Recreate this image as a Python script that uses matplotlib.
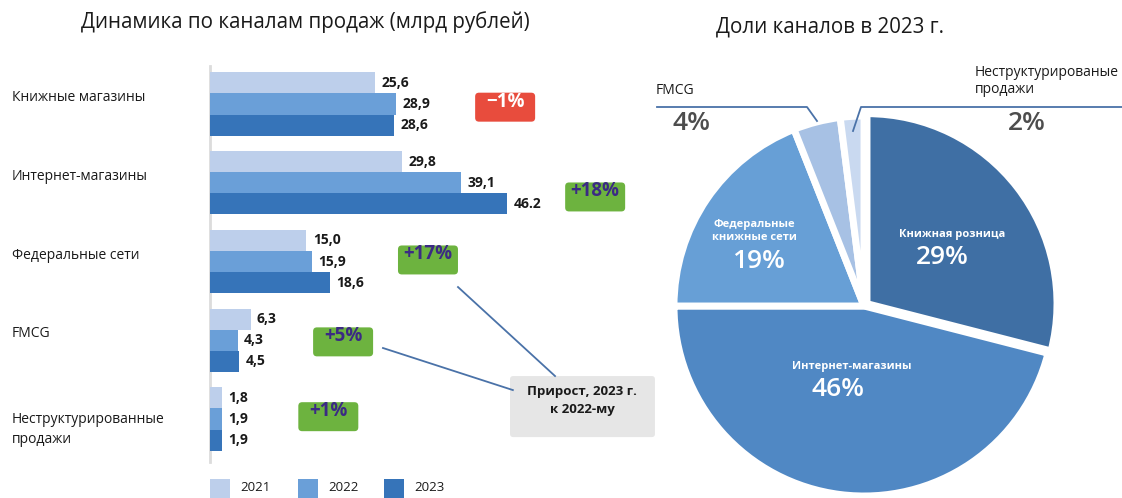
import matplotlib
matplotlib.use("Agg")
import matplotlib.pyplot as plt
from matplotlib.patches import FancyBboxPatch, Rectangle
from matplotlib.lines import Line2D
from matplotlib.transforms import blended_transform_factory

plt.rcParams['font.family'] = ['Open Sans', 'DejaVu Sans']

# data
categories = ["Книжные магазины", "Интернет-магазины", "Федеральные сети", "FMCG",
              "Неструктурированные\nпродажи"]
years = ["2021", "2022", "2023"]
sales_2021 = [25.6, 29.8, 15.0, 6.3, 1.8]
sales_2022 = [28.9, 39.1, 15.9, 4.3, 1.9]
sales_2023 = [28.6, 46.2, 18.6, 4.5, 1.9]
labels_2021 = ["25,6", "29,8", "15,0", "6,3", "1,8"]
labels_2022 = ["28,9", "39,1", "15,9", "4,3", "1,9"]
labels_2023 = ["28,6", "46.2", "18,6", "4,5", "1,9"]
growth = ["\u22121%", "+18%", "+17%", "+5%", "+1%"]

share_names = ["Книжная розница", "Интернет-магазины", "Федеральные\nкнижные сети",
               "FMCG", "Неструктурированые\nпродажи"]
shares = [29, 46, 19, 4, 2]

# styling / layout
bar_colors = ["#bdcfeb", "#6a9fd8", "#3674b9"]
pie_colors = ["#3f6fa4", "#5088c4", "#679fd6", "#a7c1e4", "#c9d9f0"]
growth_pos = [(45.9, 0.04), (59.9, 1.18), (33.9, 1.98), (20.7, 3.02), (18.4, 3.97)]
W, H = 1122, 498


def fx(px):
    return px / W


def fy(py):
    return 1 - py / H


fig = plt.figure(figsize=(W / 100, H / 100), dpi=100)

# ---- bar chart ----
ax1 = fig.add_axes([fx(210), fy(470), fx(660) - fx(210), fy(60) - fy(470)])
ax1.set_xlim(0, 450 / 6.43)
ax1.set_ylim(4.647, -0.559)
ax1.axis('off')

bh = 0.268
series = [sales_2021, sales_2022, sales_2023]
slabels = [labels_2021, labels_2022, labels_2023]
for k in range(3):
    ys = [i + (k - 1) * bh for i in range(len(categories))]
    ax1.barh(ys, series[k], height=bh, color=bar_colors[k])
    for y, v, lab in zip(ys, series[k], slabels[k]):
        ax1.text(v + 1.0, y, lab, va='center', ha='left', fontsize=10,
                 fontweight='bold', color='#1a1a1a')

ax1.plot([0, 0], [-0.48, 4.55], color='#dcdcdc', lw=2, clip_on=False, zorder=0)

tr = blended_transform_factory(fig.transFigure, ax1.transData)
for i, name in enumerate(categories):
    off = 0.13 if "\n" in name else -0.08
    ax1.text(fx(12), i + off, name, transform=tr, ha='left', va='center',
             fontsize=10, color='#1a1a1a', linespacing=1.5)

# growth badges
asp = (1 / 78.75) / (1 / 6.43)
for (gx, gy), g in zip(growth_pos, growth):
    neg = g.startswith("\u2212")
    w, h = 9.33, 0.368
    box = FancyBboxPatch((gx - w / 2, gy - h / 2), w, h,
                         boxstyle="round,pad=0,rounding_size=0.6",
                         mutation_aspect=asp,
                         facecolor="#e84c3d" if neg else "#6db33f",
                         edgecolor='none')
    ax1.add_patch(box)
    ax1.text(gx, gy - 0.07, g, ha='center', va='center', fontsize=13.5,
             fontweight='bold', color='white' if neg else '#3b2a84')

# callout
cbox = FancyBboxPatch((46.66, 3.454), 69.2 - 46.66, 4.229 - 3.454,
                      boxstyle="round,pad=0,rounding_size=0.5",
                      mutation_aspect=asp, facecolor='#e6e6e6', edgecolor='none',
                      clip_on=False)
ax1.add_patch(cbox)
ax1.text(57.9, 3.77, "Прирост, 2023 г.\nк 2022-му", ha='center', va='center',
         fontsize=9.5, fontweight='bold', color='#1a1a1a', linespacing=1.5)
ax1.plot([38.57, 53.66], [2.324, 3.454], color='#4a72a8', lw=1.3, clip_on=False)
ax1.plot([26.9, 47.1], [3.098, 3.632], color='#4a72a8', lw=1.3, clip_on=False)

# legend
for k, (yr, x0) in enumerate(zip(years, [210, 298, 384])):
    fig.patches.append(Rectangle((fx(x0), 0), 20 / W, 19 / H, transform=fig.transFigure,
                                 facecolor=bar_colors[k], edgecolor='none'))
    fig.text(fx(x0 + 30), fy(487), yr, ha='left', va='center', fontsize=9.5,
             color='#1a1a1a')

fig.text(fx(305), fy(22), "Динамика по каналам продаж (млрд рублей)", ha='center',
         va='center', fontsize=14.8, color='#1a1a1a')

# ---- pie chart ----
R = 190
ax2 = fig.add_axes([fx(864 - R), fy(306 + R), 2 * R / W, 2 * R / H])
ax2.pie(shares, colors=pie_colors, startangle=90, counterclock=False, radius=1,
        explode=[0.02, 0, 0, 0, 0],
        wedgeprops=dict(edgecolor='white', linewidth=5))
ax2.set_xlim(-1, 1)
ax2.set_ylim(-1, 1)
ax2.axis('off')

fig.text(fx(830), fy(27), "Доли каналов в 2023 г.", ha='center', va='center',
         fontsize=14.8, color='#1a1a1a')

inner = [(0, 952, 234, 942, 258), (1, 852, 367, 838, 390), (2, 754, 231, 758, 262)]
for idx, lx, ly, px, py in inner:
    fig.text(fx(lx), fy(ly), share_names[idx], ha='center', va='center', fontsize=8,
             fontweight='bold', color='white', linespacing=1.3)
    fig.text(fx(px), fy(py), f"{shares[idx]}%", ha='center', va='center',
             fontsize=19, fontweight='semibold', color='white')

fig.text(fx(656), fy(90), share_names[3], ha='left', va='center', fontsize=10,
         color='#1a1a1a')
fig.text(fx(692), fy(124), f"{shares[3]}%", ha='center', va='center', fontsize=19,
         fontweight='semibold', color='#4d4d4d')
fig.lines.append(Line2D([fx(657), fx(807), fx(817)], [fy(107), fy(107), fy(121)],
                        transform=fig.transFigure, color='#4a72a8', lw=1.3))

fig.text(fx(975), fy(81), share_names[4], ha='left', va='center', fontsize=10,
         color='#1a1a1a', linespacing=1.2)
fig.text(fx(1027), fy(124), f"{shares[4]}%", ha='center', va='center', fontsize=19,
         fontweight='semibold', color='#4d4d4d')
fig.lines.append(Line2D([fx(853), fx(861), fx(1122)], [fy(131), fy(107), fy(107)],
                        transform=fig.transFigure, color='#4a72a8', lw=1.3))

fig.savefig("out.png", dpi=100)
